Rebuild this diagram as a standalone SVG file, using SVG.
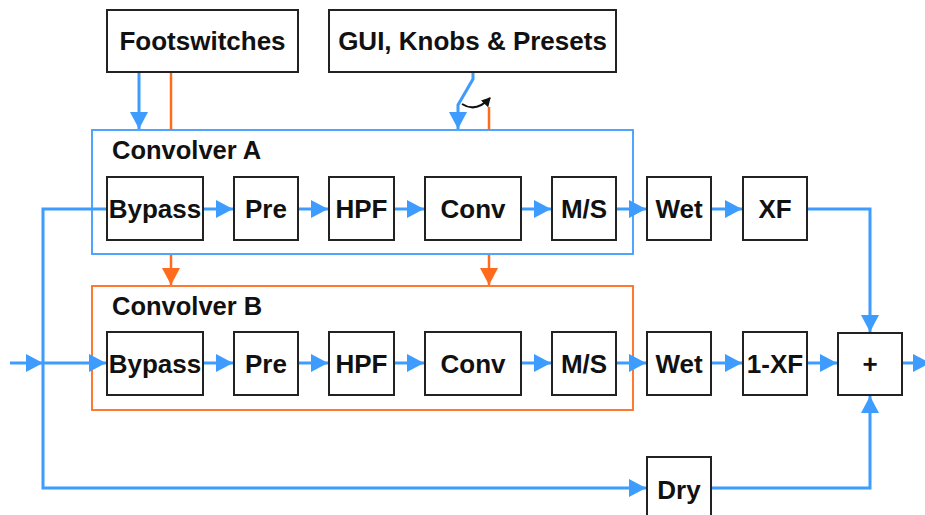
<svg xmlns="http://www.w3.org/2000/svg" width="925" height="515" viewBox="0 0 925 515">
<defs>
<style>
.box{fill:#fff;stroke:#222;stroke-width:2}
.lbl{font-family:"Liberation Sans",Arial,sans-serif;font-weight:bold;font-size:26px;fill:#111;text-anchor:middle}
.grp{font-family:"Liberation Sans",Arial,sans-serif;font-weight:bold;font-size:25.5px;fill:#111}
.b{fill:none;stroke:#3d9cfd;stroke-width:3}
.o{fill:none;stroke:#ff6b1c;stroke-width:2.5}
</style>
<marker id="ab" markerUnits="userSpaceOnUse" markerWidth="18" markerHeight="18" refX="17" refY="9" orient="auto"><path d="M0,0 L17,9 L0,18 z" fill="#3d9cfd"/></marker>
<marker id="ao" markerUnits="userSpaceOnUse" markerWidth="18" markerHeight="18" refX="17" refY="9" orient="auto"><path d="M0,0 L17,9 L0,18 z" fill="#ff6b1c"/></marker>
<marker id="ak" markerUnits="userSpaceOnUse" markerWidth="10" markerHeight="10" refX="8" refY="5" orient="auto"><path d="M0,0 L9,5 L0,10 z" fill="#111"/></marker>
</defs>
<rect width="925" height="515" fill="#fff"/>

<g id="convolverA"><rect x="92" y="130" width="541" height="124" fill="none" stroke="#3d9cfd" stroke-width="1.8"/><text class="grp" x="112" y="159">Convolver A</text></g>
<g id="convolverB"><rect x="92" y="286" width="541" height="124" fill="none" stroke="#ff6b1c" stroke-width="1.8"/><text class="grp" x="112" y="315">Convolver B</text></g>

<g id="connectors">
<path class="b" d="M139,72 V129" marker-end="url(#ab)"/>
<path class="o" d="M171,72 V130"/>
<path class="o" d="M171,255 V285" marker-end="url(#ao)"/>
<path class="b" d="M473,72 V79 L458,105 V129" marker-end="url(#ab)"/>
<path class="o" d="M489,107 V130"/>
<path class="o" d="M489,255 V285" marker-end="url(#ao)"/>
<path d="M462,104 Q476,113 490,98" fill="none" stroke="#111" stroke-width="2" marker-end="url(#ak)"/>
<path class="b" d="M10,363 H43" marker-end="url(#ab)"/>
<path class="b" d="M43,363 H106" marker-end="url(#ab)"/>
<path class="b" d="M106,209 H43 V488 H646" marker-end="url(#ab)"/>
<path class="b" d="M203,209 H233" marker-end="url(#ab)"/>
<path class="b" d="M298,209 H328" marker-end="url(#ab)"/>
<path class="b" d="M394,209 H424" marker-end="url(#ab)"/>
<path class="b" d="M521,209 H551" marker-end="url(#ab)"/>
<path class="b" d="M616,209 H646" marker-end="url(#ab)"/>
<path class="b" d="M711,209 H742" marker-end="url(#ab)"/>
<path class="b" d="M807,209 H870 V332" marker-end="url(#ab)"/>
<path class="b" d="M203,363 H233" marker-end="url(#ab)"/>
<path class="b" d="M298,363 H328" marker-end="url(#ab)"/>
<path class="b" d="M394,363 H424" marker-end="url(#ab)"/>
<path class="b" d="M521,363 H551" marker-end="url(#ab)"/>
<path class="b" d="M616,363 H646" marker-end="url(#ab)"/>
<path class="b" d="M711,363 H742" marker-end="url(#ab)"/>
<path class="b" d="M807,363 H837" marker-end="url(#ab)"/>
<path class="b" d="M902,363 H930" marker-end="url(#ab)"/>
<path class="b" d="M711,488 H870 V396" marker-end="url(#ab)"/>
</g>

<g id="footswitches"><rect class="box" x="107" y="10" width="191" height="62"/><text class="lbl" x="202.5" y="50">Footswitches</text></g>
<g id="gui"><rect class="box" x="329" y="10" width="287" height="62"/><text class="lbl" x="472.5" y="50">GUI, Knobs &amp; Presets</text></g>

<g id="bypassA"><rect class="box" x="107" y="177" width="96" height="63"/><text class="lbl" x="155" y="218">Bypass</text></g>
<g id="preA"><rect class="box" x="234" y="177" width="64" height="63"/><text class="lbl" x="266" y="218">Pre</text></g>
<g id="hpfA"><rect class="box" x="329" y="177" width="65" height="63"/><text class="lbl" x="361.5" y="218">HPF</text></g>
<g id="convA"><rect class="box" x="425" y="177" width="96" height="63"/><text class="lbl" x="473" y="218">Conv</text></g>
<g id="msA"><rect class="box" x="552" y="177" width="64" height="63"/><text class="lbl" x="584" y="218">M/S</text></g>
<g id="wetA"><rect class="box" x="647" y="177" width="64" height="63"/><text class="lbl" x="679" y="218">Wet</text></g>
<g id="xf"><rect class="box" x="743" y="177" width="64" height="63"/><text class="lbl" x="775" y="218">XF</text></g>

<g id="bypassB"><rect class="box" x="107" y="332" width="96" height="63"/><text class="lbl" x="155" y="373">Bypass</text></g>
<g id="preB"><rect class="box" x="234" y="332" width="64" height="63"/><text class="lbl" x="266" y="373">Pre</text></g>
<g id="hpfB"><rect class="box" x="329" y="332" width="65" height="63"/><text class="lbl" x="361.5" y="373">HPF</text></g>
<g id="convB"><rect class="box" x="425" y="332" width="96" height="63"/><text class="lbl" x="473" y="373">Conv</text></g>
<g id="msB"><rect class="box" x="552" y="332" width="64" height="63"/><text class="lbl" x="584" y="373">M/S</text></g>
<g id="wetB"><rect class="box" x="647" y="332" width="64" height="63"/><text class="lbl" x="679" y="373">Wet</text></g>
<g id="oneMinusXf"><rect class="box" x="743" y="332" width="64" height="63"/><text class="lbl" x="775" y="373">1-XF</text></g>
<g id="sum"><rect class="box" x="838" y="333" width="64" height="62"/><text class="lbl" x="870" y="373">+</text></g>
<g id="dry"><rect class="box" x="647" y="457" width="64" height="63"/><text class="lbl" x="679" y="499">Dry</text></g>
</svg>
